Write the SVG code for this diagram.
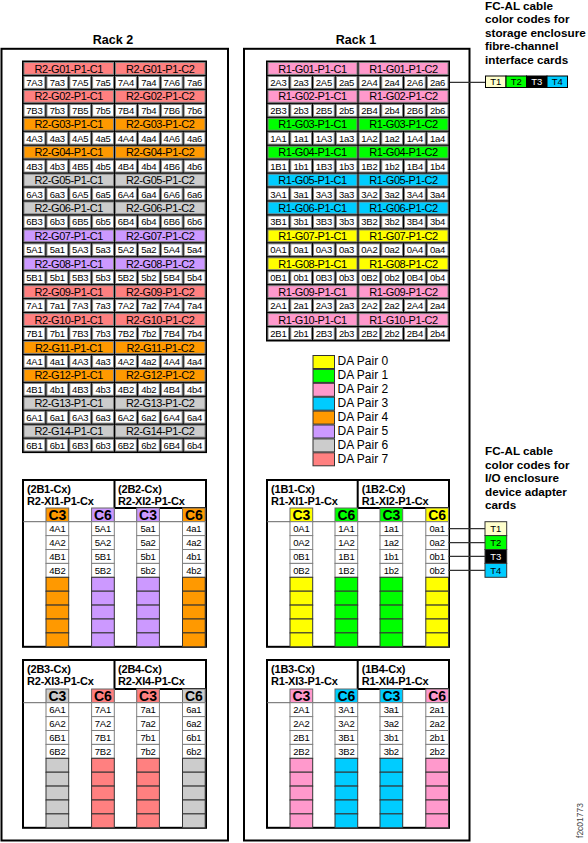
<svg xmlns="http://www.w3.org/2000/svg" xmlns:xlink="http://www.w3.org/1999/xlink" width="588" height="843" viewBox="0 0 588 843">
<style>
text{font-family:"Liberation Sans",Arial,Helvetica,sans-serif;fill:#000}
.hd{font-size:11px;letter-spacing:-0.4px;text-anchor:middle}
.dt{font-size:9.5px;letter-spacing:-0.2px;text-anchor:middle}
.tab{font-size:14px;font-weight:bold;text-anchor:middle}
.ttl{font-size:11px;font-weight:bold;letter-spacing:-0.2px}
.rk{font-size:12.5px;font-weight:bold;text-anchor:middle}
.note{font-size:11.7px;font-weight:bold}
.lg{font-size:12px}
.tt{font-size:9.5px;text-anchor:middle}
.box{fill:#fff;stroke:#000;stroke-width:2}
.thick{stroke:#000;stroke-width:2;fill:none}
.thin{stroke:#666;stroke-width:1;fill:none}
.conn{stroke:#333;stroke-width:1.2;fill:none}
</style>
<defs>
<g id="h2" stroke="#808080" stroke-width="1"><rect x="24" y="1" width="89.5" height="11.9"/><rect x="115.5" y="1" width="89.5" height="11.9"/></g>
<g id="d2" fill="#fff" stroke="#808080" stroke-width="1"><rect x="24" y="1" width="20.9" height="11.9"/><rect x="46.9" y="1" width="20.9" height="11.9"/><rect x="69.8" y="1" width="20.9" height="11.9"/><rect x="92.6" y="1" width="20.9" height="11.9"/><rect x="115.5" y="1" width="20.9" height="11.9"/><rect x="138.4" y="1" width="20.9" height="11.9"/><rect x="161.3" y="1" width="20.9" height="11.9"/><rect x="184.1" y="1" width="20.9" height="11.9"/></g>
<g id="h1" stroke="#808080" stroke-width="1"><rect x="268" y="1" width="89" height="11.9"/><rect x="359" y="1" width="89" height="11.9"/></g>
<g id="d1" fill="#fff" stroke="#808080" stroke-width="1"><rect x="268" y="1" width="20.75" height="11.9"/><rect x="290.75" y="1" width="20.75" height="11.9"/><rect x="313.5" y="1" width="20.75" height="11.9"/><rect x="336.25" y="1" width="20.75" height="11.9"/><rect x="359" y="1" width="20.75" height="11.9"/><rect x="381.75" y="1" width="20.75" height="11.9"/><rect x="404.5" y="1" width="20.75" height="11.9"/><rect x="427.25" y="1" width="20.75" height="11.9"/></g>
<g id="col">
<rect x="0" y="0" width="22.7" height="13.7" stroke="#666" stroke-width="1"/>
<g stroke="#808080" stroke-width="1" fill="#fff"><rect y="13.7" width="22.7" height="13.9"/><rect y="27.6" width="22.7" height="13.9"/><rect y="41.5" width="22.7" height="13.9"/><rect y="55.4" width="22.7" height="13.9"/></g>
<g stroke="#333" stroke-width="1"><rect y="69.3" width="22.7" height="13.9"/><rect y="83.2" width="22.7" height="13.9"/><rect y="97.1" width="22.7" height="13.9"/><rect y="111" width="22.7" height="13.9"/><rect y="124.9" width="22.7" height="13.9"/></g>
</g>
</defs>

<rect width="588" height="843" fill="#fff"/>

<!-- Rack boxes -->
<g id="rack2">
<text class="rk" x="113" y="44.3">Rack 2</text>
<rect class="box" x="1.5" y="48.8" width="226.5" height="791.7"/>
</g>
<g id="rack1">
<text class="rk" x="356" y="44.3">Rack 1</text>
<rect class="box" x="244" y="48.8" width="225.5" height="791.7"/>
</g>

<!-- Rack 2 storage enclosure cards -->
<g id="rack2-cards">
<rect x="22" y="60.5" width="185" height="392.6" fill="#000"/>
<g id="r2-g01"><use href="#h2" y="61.5" fill="#FF8080"/><use href="#d2" y="75.45"/><text class="hd" y="72.5"><tspan x="68.75">R2-G01-P1-C1</tspan><tspan x="160.25">R2-G01-P1-C2</tspan></text><text class="dt" y="85.95"><tspan x="34.45">7A3</tspan><tspan x="57.35">7a3</tspan><tspan x="80.25">7A5</tspan><tspan x="103.05">7a5</tspan><tspan x="125.95">7A4</tspan><tspan x="148.85">7a4</tspan><tspan x="171.75">7A6</tspan><tspan x="194.55">7a6</tspan></text></g>
<g id="r2-g02"><use href="#h2" y="89.4" fill="#FF8080"/><use href="#d2" y="103.35"/><text class="hd" y="100.4"><tspan x="68.75">R2-G02-P1-C1</tspan><tspan x="160.25">R2-G02-P1-C2</tspan></text><text class="dt" y="113.85"><tspan x="34.45">7B3</tspan><tspan x="57.35">7b3</tspan><tspan x="80.25">7B5</tspan><tspan x="103.05">7b5</tspan><tspan x="125.95">7B4</tspan><tspan x="148.85">7b4</tspan><tspan x="171.75">7B6</tspan><tspan x="194.55">7b6</tspan></text></g>
<g id="r2-g03"><use href="#h2" y="117.3" fill="#FF9900"/><use href="#d2" y="131.25"/><text class="hd" y="128.3"><tspan x="68.75">R2-G03-P1-C1</tspan><tspan x="160.25">R2-G03-P1-C2</tspan></text><text class="dt" y="141.75"><tspan x="34.45">4A3</tspan><tspan x="57.35">4a3</tspan><tspan x="80.25">4A5</tspan><tspan x="103.05">4a5</tspan><tspan x="125.95">4A4</tspan><tspan x="148.85">4a4</tspan><tspan x="171.75">4A6</tspan><tspan x="194.55">4a6</tspan></text></g>
<g id="r2-g04"><use href="#h2" y="145.2" fill="#FF9900"/><use href="#d2" y="159.15"/><text class="hd" y="156.2"><tspan x="68.75">R2-G04-P1-C1</tspan><tspan x="160.25">R2-G04-P1-C2</tspan></text><text class="dt" y="169.65"><tspan x="34.45">4B3</tspan><tspan x="57.35">4b3</tspan><tspan x="80.25">4B5</tspan><tspan x="103.05">4b5</tspan><tspan x="125.95">4B4</tspan><tspan x="148.85">4b4</tspan><tspan x="171.75">4B6</tspan><tspan x="194.55">4b6</tspan></text></g>
<g id="r2-g05"><use href="#h2" y="173.1" fill="#CCCCCC"/><use href="#d2" y="187.05"/><text class="hd" y="184.1"><tspan x="68.75">R2-G05-P1-C1</tspan><tspan x="160.25">R2-G05-P1-C2</tspan></text><text class="dt" y="197.55"><tspan x="34.45">6A3</tspan><tspan x="57.35">6a3</tspan><tspan x="80.25">6A5</tspan><tspan x="103.05">6a5</tspan><tspan x="125.95">6A4</tspan><tspan x="148.85">6a4</tspan><tspan x="171.75">6A6</tspan><tspan x="194.55">6a6</tspan></text></g>
<g id="r2-g06"><use href="#h2" y="201" fill="#CCCCCC"/><use href="#d2" y="214.95"/><text class="hd" y="212"><tspan x="68.75">R2-G06-P1-C1</tspan><tspan x="160.25">R2-G06-P1-C2</tspan></text><text class="dt" y="225.45"><tspan x="34.45">6B3</tspan><tspan x="57.35">6b3</tspan><tspan x="80.25">6B5</tspan><tspan x="103.05">6b5</tspan><tspan x="125.95">6B4</tspan><tspan x="148.85">6b4</tspan><tspan x="171.75">6B6</tspan><tspan x="194.55">6b6</tspan></text></g>
<g id="r2-g07"><use href="#h2" y="228.9" fill="#CC99FF"/><use href="#d2" y="242.85"/><text class="hd" y="239.9"><tspan x="68.75">R2-G07-P1-C1</tspan><tspan x="160.25">R2-G07-P1-C2</tspan></text><text class="dt" y="253.35"><tspan x="34.45">5A1</tspan><tspan x="57.35">5a1</tspan><tspan x="80.25">5A3</tspan><tspan x="103.05">5a3</tspan><tspan x="125.95">5A2</tspan><tspan x="148.85">5a2</tspan><tspan x="171.75">5A4</tspan><tspan x="194.55">5a4</tspan></text></g>
<g id="r2-g08"><use href="#h2" y="256.8" fill="#CC99FF"/><use href="#d2" y="270.75"/><text class="hd" y="267.8"><tspan x="68.75">R2-G08-P1-C1</tspan><tspan x="160.25">R2-G08-P1-C2</tspan></text><text class="dt" y="281.25"><tspan x="34.45">5B1</tspan><tspan x="57.35">5b1</tspan><tspan x="80.25">5B3</tspan><tspan x="103.05">5b3</tspan><tspan x="125.95">5B2</tspan><tspan x="148.85">5b2</tspan><tspan x="171.75">5B4</tspan><tspan x="194.55">5b4</tspan></text></g>
<g id="r2-g09"><use href="#h2" y="284.7" fill="#FF8080"/><use href="#d2" y="298.65"/><text class="hd" y="295.7"><tspan x="68.75">R2-G09-P1-C1</tspan><tspan x="160.25">R2-G09-P1-C2</tspan></text><text class="dt" y="309.15"><tspan x="34.45">7A1</tspan><tspan x="57.35">7a1</tspan><tspan x="80.25">7A3</tspan><tspan x="103.05">7a3</tspan><tspan x="125.95">7A2</tspan><tspan x="148.85">7a2</tspan><tspan x="171.75">7A4</tspan><tspan x="194.55">7a4</tspan></text></g>
<g id="r2-g10"><use href="#h2" y="312.6" fill="#FF8080"/><use href="#d2" y="326.55"/><text class="hd" y="323.6"><tspan x="68.75">R2-G10-P1-C1</tspan><tspan x="160.25">R2-G10-P1-C2</tspan></text><text class="dt" y="337.05"><tspan x="34.45">7B1</tspan><tspan x="57.35">7b1</tspan><tspan x="80.25">7B3</tspan><tspan x="103.05">7b3</tspan><tspan x="125.95">7B2</tspan><tspan x="148.85">7b2</tspan><tspan x="171.75">7B4</tspan><tspan x="194.55">7b4</tspan></text></g>
<g id="r2-g11"><use href="#h2" y="340.5" fill="#FF9900"/><use href="#d2" y="354.45"/><text class="hd" y="351.5"><tspan x="68.75">R2-G11-P1-C1</tspan><tspan x="160.25">R2-G11-P1-C2</tspan></text><text class="dt" y="364.95"><tspan x="34.45">4A1</tspan><tspan x="57.35">4a1</tspan><tspan x="80.25">4A3</tspan><tspan x="103.05">4a3</tspan><tspan x="125.95">4A2</tspan><tspan x="148.85">4a2</tspan><tspan x="171.75">4A4</tspan><tspan x="194.55">4a4</tspan></text></g>
<g id="r2-g12"><use href="#h2" y="368.4" fill="#FF9900"/><use href="#d2" y="382.35"/><text class="hd" y="379.4"><tspan x="68.75">R2-G12-P1-C1</tspan><tspan x="160.25">R2-G12-P1-C2</tspan></text><text class="dt" y="392.85"><tspan x="34.45">4B1</tspan><tspan x="57.35">4b1</tspan><tspan x="80.25">4B3</tspan><tspan x="103.05">4b3</tspan><tspan x="125.95">4B2</tspan><tspan x="148.85">4b2</tspan><tspan x="171.75">4B4</tspan><tspan x="194.55">4b4</tspan></text></g>
<g id="r2-g13"><use href="#h2" y="396.3" fill="#CCCCCC"/><use href="#d2" y="410.25"/><text class="hd" y="407.3"><tspan x="68.75">R2-G13-P1-C1</tspan><tspan x="160.25">R2-G13-P1-C2</tspan></text><text class="dt" y="420.75"><tspan x="34.45">6A1</tspan><tspan x="57.35">6a1</tspan><tspan x="80.25">6A3</tspan><tspan x="103.05">6a3</tspan><tspan x="125.95">6A2</tspan><tspan x="148.85">6a2</tspan><tspan x="171.75">6A4</tspan><tspan x="194.55">6a4</tspan></text></g>
<g id="r2-g14"><use href="#h2" y="424.2" fill="#CCCCCC"/><use href="#d2" y="438.15"/><text class="hd" y="435.2"><tspan x="68.75">R2-G14-P1-C1</tspan><tspan x="160.25">R2-G14-P1-C2</tspan></text><text class="dt" y="448.65"><tspan x="34.45">6B1</tspan><tspan x="57.35">6b1</tspan><tspan x="80.25">6B3</tspan><tspan x="103.05">6b3</tspan><tspan x="125.95">6B2</tspan><tspan x="148.85">6b2</tspan><tspan x="171.75">6B4</tspan><tspan x="194.55">6b4</tspan></text></g>
</g>

<!-- Rack 1 storage enclosure cards -->
<g id="rack1-cards">
<rect x="266" y="60.5" width="184" height="281" fill="#000"/>
<g id="r1-g01"><use href="#h1" y="61.5" fill="#FF99CC"/><use href="#d1" y="75.45"/><text class="hd" y="72.5"><tspan x="312.5">R1-G01-P1-C1</tspan><tspan x="403.5">R1-G01-P1-C2</tspan></text><text class="dt" y="85.95"><tspan x="278.4">2A3</tspan><tspan x="301.1">2a3</tspan><tspan x="323.9">2A5</tspan><tspan x="346.6">2a5</tspan><tspan x="369.4">2A4</tspan><tspan x="392.1">2a4</tspan><tspan x="414.9">2A6</tspan><tspan x="437.6">2a6</tspan></text></g>
<g id="r1-g02"><use href="#h1" y="89.4" fill="#FF99CC"/><use href="#d1" y="103.35"/><text class="hd" y="100.4"><tspan x="312.5">R1-G02-P1-C1</tspan><tspan x="403.5">R1-G02-P1-C2</tspan></text><text class="dt" y="113.85"><tspan x="278.4">2B3</tspan><tspan x="301.1">2b3</tspan><tspan x="323.9">2B5</tspan><tspan x="346.6">2b5</tspan><tspan x="369.4">2B4</tspan><tspan x="392.1">2b4</tspan><tspan x="414.9">2B6</tspan><tspan x="437.6">2b6</tspan></text></g>
<g id="r1-g03"><use href="#h1" y="117.3" fill="#00FF00"/><use href="#d1" y="131.25"/><text class="hd" y="128.3"><tspan x="312.5">R1-G03-P1-C1</tspan><tspan x="403.5">R1-G03-P1-C2</tspan></text><text class="dt" y="141.75"><tspan x="278.4">1A1</tspan><tspan x="301.1">1a1</tspan><tspan x="323.9">1A3</tspan><tspan x="346.6">1a3</tspan><tspan x="369.4">1A2</tspan><tspan x="392.1">1a2</tspan><tspan x="414.9">1A4</tspan><tspan x="437.6">1a4</tspan></text></g>
<g id="r1-g04"><use href="#h1" y="145.2" fill="#00FF00"/><use href="#d1" y="159.15"/><text class="hd" y="156.2"><tspan x="312.5">R1-G04-P1-C1</tspan><tspan x="403.5">R1-G04-P1-C2</tspan></text><text class="dt" y="169.65"><tspan x="278.4">1B1</tspan><tspan x="301.1">1b1</tspan><tspan x="323.9">1B3</tspan><tspan x="346.6">1b3</tspan><tspan x="369.4">1B2</tspan><tspan x="392.1">1b2</tspan><tspan x="414.9">1B4</tspan><tspan x="437.6">1b4</tspan></text></g>
<g id="r1-g05"><use href="#h1" y="173.1" fill="#00CCFF"/><use href="#d1" y="187.05"/><text class="hd" y="184.1"><tspan x="312.5">R1-G05-P1-C1</tspan><tspan x="403.5">R1-G05-P1-C2</tspan></text><text class="dt" y="197.55"><tspan x="278.4">3A1</tspan><tspan x="301.1">3a1</tspan><tspan x="323.9">3A3</tspan><tspan x="346.6">3a3</tspan><tspan x="369.4">3A2</tspan><tspan x="392.1">3a2</tspan><tspan x="414.9">3A4</tspan><tspan x="437.6">3a4</tspan></text></g>
<g id="r1-g06"><use href="#h1" y="201" fill="#00CCFF"/><use href="#d1" y="214.95"/><text class="hd" y="212"><tspan x="312.5">R1-G06-P1-C1</tspan><tspan x="403.5">R1-G06-P1-C2</tspan></text><text class="dt" y="225.45"><tspan x="278.4">3B1</tspan><tspan x="301.1">3b1</tspan><tspan x="323.9">3B3</tspan><tspan x="346.6">3b3</tspan><tspan x="369.4">3B2</tspan><tspan x="392.1">3b2</tspan><tspan x="414.9">3B4</tspan><tspan x="437.6">3b4</tspan></text></g>
<g id="r1-g07"><use href="#h1" y="228.9" fill="#FFFF00"/><use href="#d1" y="242.85"/><text class="hd" y="239.9"><tspan x="312.5">R1-G07-P1-C1</tspan><tspan x="403.5">R1-G07-P1-C2</tspan></text><text class="dt" y="253.35"><tspan x="278.4">0A1</tspan><tspan x="301.1">0a1</tspan><tspan x="323.9">0A3</tspan><tspan x="346.6">0a3</tspan><tspan x="369.4">0A2</tspan><tspan x="392.1">0a2</tspan><tspan x="414.9">0A4</tspan><tspan x="437.6">0a4</tspan></text></g>
<g id="r1-g08"><use href="#h1" y="256.8" fill="#FFFF00"/><use href="#d1" y="270.75"/><text class="hd" y="267.8"><tspan x="312.5">R1-G08-P1-C1</tspan><tspan x="403.5">R1-G08-P1-C2</tspan></text><text class="dt" y="281.25"><tspan x="278.4">0B1</tspan><tspan x="301.1">0b1</tspan><tspan x="323.9">0B3</tspan><tspan x="346.6">0b3</tspan><tspan x="369.4">0B2</tspan><tspan x="392.1">0b2</tspan><tspan x="414.9">0B4</tspan><tspan x="437.6">0b4</tspan></text></g>
<g id="r1-g09"><use href="#h1" y="284.7" fill="#FF99CC"/><use href="#d1" y="298.65"/><text class="hd" y="295.7"><tspan x="312.5">R1-G09-P1-C1</tspan><tspan x="403.5">R1-G09-P1-C2</tspan></text><text class="dt" y="309.15"><tspan x="278.4">2A1</tspan><tspan x="301.1">2a1</tspan><tspan x="323.9">2A3</tspan><tspan x="346.6">2a3</tspan><tspan x="369.4">2A2</tspan><tspan x="392.1">2a2</tspan><tspan x="414.9">2A4</tspan><tspan x="437.6">2a4</tspan></text></g>
<g id="r1-g10"><use href="#h1" y="312.6" fill="#FF99CC"/><use href="#d1" y="326.55"/><text class="hd" y="323.6"><tspan x="312.5">R1-G10-P1-C1</tspan><tspan x="403.5">R1-G10-P1-C2</tspan></text><text class="dt" y="337.05"><tspan x="278.4">2B1</tspan><tspan x="301.1">2b1</tspan><tspan x="323.9">2B3</tspan><tspan x="346.6">2b3</tspan><tspan x="369.4">2B2</tspan><tspan x="392.1">2b2</tspan><tspan x="414.9">2B4</tspan><tspan x="437.6">2b4</tspan></text></g>
</g>

<!-- Legend -->
<g id="legend" stroke="#333" stroke-width="1">
<rect x="313" y="355.5" width="21.5" height="13" fill="#FFFF00"/>
<rect x="313" y="369.4" width="21.5" height="13" fill="#00FF00"/>
<rect x="313" y="383.3" width="21.5" height="13" fill="#FF99CC"/>
<rect x="313" y="397.2" width="21.5" height="13" fill="#00CCFF"/>
<rect x="313" y="411.1" width="21.5" height="13" fill="#FF9900"/>
<rect x="313" y="425" width="21.5" height="13" fill="#CC99FF"/>
<rect x="313" y="438.9" width="21.5" height="13" fill="#CCCCCC"/>
<rect x="313" y="452.8" width="21.5" height="13" fill="#FF8080"/>
</g>
<g id="legend-text">
<text class="lg" x="337.5" y="365">DA Pair 0</text>
<text class="lg" x="337.5" y="378.9">DA Pair 1</text>
<text class="lg" x="337.5" y="392.8">DA Pair 2</text>
<text class="lg" x="337.5" y="406.7">DA Pair 3</text>
<text class="lg" x="337.5" y="420.6">DA Pair 4</text>
<text class="lg" x="337.5" y="434.5">DA Pair 5</text>
<text class="lg" x="337.5" y="448.6">DA Pair 6</text>
<text class="lg" x="337.5" y="463.2">DA Pair 7</text>
</g>

<!-- Rack 2 I/O enclosure, section 1 -->
<g id="r2-io1">
<rect class="box" x="23" y="480" width="183" height="166.8"/>
<path class="thick" d="M114.5 480V508M114.5 508H206"/>
<path class="thin" d="M23 521.7H206"/>
<g id="r2-xi1">
<text class="ttl" x="27" y="492.8">(2B1-Cx)</text>
<text class="ttl" x="27" y="505">R2-XI1-P1-Cx</text>
<use href="#col" x="46" y="508" fill="#FF9900"/>
<use href="#col" x="91.6" y="508" fill="#CC99FF"/>
<text class="tab" x="57.35" y="519.7">C3</text>
<text class="tab" x="102.95" y="519.7">C6</text>
<text class="dt"><tspan x="57.35" y="531.9">4A1</tspan><tspan x="57.35" y="545.8">4A2</tspan><tspan x="57.35" y="559.7">4B1</tspan><tspan x="57.35" y="573.6">4B2</tspan></text>
<text class="dt"><tspan x="102.95" y="531.9">5A1</tspan><tspan x="102.95" y="545.8">5A2</tspan><tspan x="102.95" y="559.7">5B1</tspan><tspan x="102.95" y="573.6">5B2</tspan></text>
</g>
<g id="r2-xi2">
<text class="ttl" x="118" y="492.8">(2B2-Cx)</text>
<text class="ttl" x="118" y="505">R2-XI2-P1-Cx</text>
<use href="#col" x="136.7" y="508" fill="#CC99FF"/>
<use href="#col" x="182.5" y="508" fill="#FF9900"/>
<text class="tab" x="148.05" y="519.7">C3</text>
<text class="tab" x="193.85" y="519.7">C6</text>
<text class="dt"><tspan x="148.05" y="531.9">5a1</tspan><tspan x="148.05" y="545.8">5a2</tspan><tspan x="148.05" y="559.7">5b1</tspan><tspan x="148.05" y="573.6">5b2</tspan></text>
<text class="dt"><tspan x="193.85" y="531.9">4a1</tspan><tspan x="193.85" y="545.8">4a2</tspan><tspan x="193.85" y="559.7">4b1</tspan><tspan x="193.85" y="573.6">4b2</tspan></text>
</g>
</g>

<!-- Rack 2 I/O enclosure, section 2 -->
<g id="r2-io2">
<rect class="box" x="23" y="660" width="183" height="167.8"/>
<path class="thick" d="M114.5 660V689M114.5 689H206"/>
<path class="thin" d="M23 702.7H206"/>
<g id="r2-xi3">
<text class="ttl" x="27" y="673">(2B3-Cx)</text>
<text class="ttl" x="27" y="685.3">R2-XI3-P1-Cx</text>
<use href="#col" x="46" y="689" fill="#CCCCCC"/>
<use href="#col" x="91.6" y="689" fill="#FF8080"/>
<text class="tab" x="57.35" y="700.7">C3</text>
<text class="tab" x="102.95" y="700.7">C6</text>
<text class="dt"><tspan x="57.35" y="712.9">6A1</tspan><tspan x="57.35" y="726.8">6A2</tspan><tspan x="57.35" y="740.7">6B1</tspan><tspan x="57.35" y="754.6">6B2</tspan></text>
<text class="dt"><tspan x="102.95" y="712.9">7A1</tspan><tspan x="102.95" y="726.8">7A2</tspan><tspan x="102.95" y="740.7">7B1</tspan><tspan x="102.95" y="754.6">7B2</tspan></text>
</g>
<g id="r2-xi4">
<text class="ttl" x="118" y="673">(2B4-Cx)</text>
<text class="ttl" x="118" y="685.3">R2-XI4-P1-Cx</text>
<use href="#col" x="136.7" y="689" fill="#FF8080"/>
<use href="#col" x="182.5" y="689" fill="#CCCCCC"/>
<text class="tab" x="148.05" y="700.7">C3</text>
<text class="tab" x="193.85" y="700.7">C6</text>
<text class="dt"><tspan x="148.05" y="712.9">7a1</tspan><tspan x="148.05" y="726.8">7a2</tspan><tspan x="148.05" y="740.7">7b1</tspan><tspan x="148.05" y="754.6">7b2</tspan></text>
<text class="dt"><tspan x="193.85" y="712.9">6a1</tspan><tspan x="193.85" y="726.8">6a2</tspan><tspan x="193.85" y="740.7">6b1</tspan><tspan x="193.85" y="754.6">6b2</tspan></text>
</g>
</g>

<!-- Rack 1 I/O enclosure, section 1 -->
<g id="r1-io1">
<rect class="box" x="267" y="480" width="182" height="166.8"/>
<path class="thick" d="M357.7 480V508M357.7 508H449"/>
<path class="thin" d="M267 521.7H449"/>
<g id="r1-xi1">
<text class="ttl" x="271" y="492.8">(1B1-Cx)</text>
<text class="ttl" x="271" y="505">R1-XI1-P1-Cx</text>
<use href="#col" x="290" y="508" fill="#FFFF00"/>
<use href="#col" x="335" y="508" fill="#00FF00"/>
<text class="tab" x="301.35" y="519.7">C3</text>
<text class="tab" x="346.35" y="519.7">C6</text>
<text class="dt"><tspan x="301.35" y="531.9">0A1</tspan><tspan x="301.35" y="545.8">0A2</tspan><tspan x="301.35" y="559.7">0B1</tspan><tspan x="301.35" y="573.6">0B2</tspan></text>
<text class="dt"><tspan x="346.35" y="531.9">1A1</tspan><tspan x="346.35" y="545.8">1A2</tspan><tspan x="346.35" y="559.7">1B1</tspan><tspan x="346.35" y="573.6">1B2</tspan></text>
</g>
<g id="r1-xi2">
<text class="ttl" x="361.7" y="492.8">(1B2-Cx)</text>
<text class="ttl" x="361.7" y="505">R1-XI2-P1-Cx</text>
<use href="#col" x="380" y="508" fill="#00FF00"/>
<use href="#col" x="425.8" y="508" fill="#FFFF00"/>
<text class="tab" x="391.35" y="519.7">C3</text>
<text class="tab" x="437.15" y="519.7">C6</text>
<text class="dt"><tspan x="391.35" y="531.9">1a1</tspan><tspan x="391.35" y="545.8">1a2</tspan><tspan x="391.35" y="559.7">1b1</tspan><tspan x="391.35" y="573.6">1b2</tspan></text>
<text class="dt"><tspan x="437.15" y="531.9">0a1</tspan><tspan x="437.15" y="545.8">0a2</tspan><tspan x="437.15" y="559.7">0b1</tspan><tspan x="437.15" y="573.6">0b2</tspan></text>
</g>
</g>

<!-- Rack 1 I/O enclosure, section 2 -->
<g id="r1-io2">
<rect class="box" x="267" y="660" width="182" height="167.8"/>
<path class="thick" d="M357.7 660V689M357.7 689H449"/>
<path class="thin" d="M267 702.7H449"/>
<g id="r1-xi3">
<text class="ttl" x="271" y="673">(1B3-Cx)</text>
<text class="ttl" x="271" y="685.3">R1-XI3-P1-Cx</text>
<use href="#col" x="290" y="689" fill="#FF99CC"/>
<use href="#col" x="335" y="689" fill="#00CCFF"/>
<text class="tab" x="301.35" y="700.7">C3</text>
<text class="tab" x="346.35" y="700.7">C6</text>
<text class="dt"><tspan x="301.35" y="712.9">2A1</tspan><tspan x="301.35" y="726.8">2A2</tspan><tspan x="301.35" y="740.7">2B1</tspan><tspan x="301.35" y="754.6">2B2</tspan></text>
<text class="dt"><tspan x="346.35" y="712.9">3A1</tspan><tspan x="346.35" y="726.8">3A2</tspan><tspan x="346.35" y="740.7">3B1</tspan><tspan x="346.35" y="754.6">3B2</tspan></text>
</g>
<g id="r1-xi4">
<text class="ttl" x="361.7" y="673">(1B4-Cx)</text>
<text class="ttl" x="361.7" y="685.3">R1-XI4-P1-Cx</text>
<use href="#col" x="380" y="689" fill="#00CCFF"/>
<use href="#col" x="425.8" y="689" fill="#FF99CC"/>
<text class="tab" x="391.35" y="700.7">C3</text>
<text class="tab" x="437.15" y="700.7">C6</text>
<text class="dt"><tspan x="391.35" y="712.9">3a1</tspan><tspan x="391.35" y="726.8">3a2</tspan><tspan x="391.35" y="740.7">3b1</tspan><tspan x="391.35" y="754.6">3b2</tspan></text>
<text class="dt"><tspan x="437.15" y="712.9">2a1</tspan><tspan x="437.15" y="726.8">2a2</tspan><tspan x="437.15" y="740.7">2b1</tspan><tspan x="437.15" y="754.6">2b2</tspan></text>
</g>
</g>

<!-- Connectors -->
<g id="connectors">
<path class="conn" d="M450 82.4H485.5"/>
<path class="conn" d="M448.5 528.65H485M448.5 542.55H485M448.5 556.45H485M448.5 570.35H485"/>
</g>

<!-- Cable colour code: storage enclosure -->
<g id="fcal-storage">
<text class="note" x="485" y="9.5">FC-AL cable</text>
<text class="note" x="485" y="23">color codes for</text>
<text class="note" x="485" y="36.5">storage enclosure</text>
<text class="note" x="485" y="50">fibre-channel</text>
<text class="note" x="485" y="63.5">interface cards</text>
<g stroke="#000" stroke-width="1">
<rect x="485.5" y="76" width="20.5" height="11.5" fill="#FFFFCC"/>
<rect x="506" y="76" width="20.5" height="11.5" fill="#00FF00"/>
<rect x="526.5" y="76" width="20.5" height="11.5" fill="#000"/>
<rect x="547" y="76" width="20.5" height="11.5" fill="#00CCFF"/>
</g>
<text class="tt" x="495.75" y="85.3">T1</text>
<text class="tt" x="516.25" y="85.3">T2</text>
<text class="tt" x="536.75" y="85.3" style="fill:#fff">T3</text>
<text class="tt" x="557.25" y="85.3">T4</text>
</g>

<!-- Cable colour code: I/O enclosure -->
<g id="fcal-io">
<text class="note" x="485" y="455">FC-AL cable</text>
<text class="note" x="485" y="468.5">color codes for</text>
<text class="note" x="485" y="482">I/O enclosure</text>
<text class="note" x="485" y="495.5">device adapter</text>
<text class="note" x="485" y="509">cards</text>
<g stroke="#333" stroke-width="1">
<rect x="485" y="521.7" width="21.7" height="13.9" fill="#FFFFCC"/>
<rect x="485" y="535.6" width="21.7" height="13.9" fill="#00FF00"/>
<rect x="485" y="549.5" width="21.7" height="13.9" fill="#000"/>
<rect x="485" y="563.4" width="21.7" height="13.9" fill="#00CCFF"/>
</g>
<text class="tt" x="495.85" y="531.9">T1</text>
<text class="tt" x="495.85" y="545.8">T2</text>
<text class="tt" x="495.85" y="559.7" style="fill:#fff">T3</text>
<text class="tt" x="495.85" y="573.6">T4</text>
</g>

<text x="0" y="0" transform="translate(583,820.5) rotate(-90)" style="font-size:8.5px;fill:#444;text-anchor:middle">f2c01773</text>
</svg>
